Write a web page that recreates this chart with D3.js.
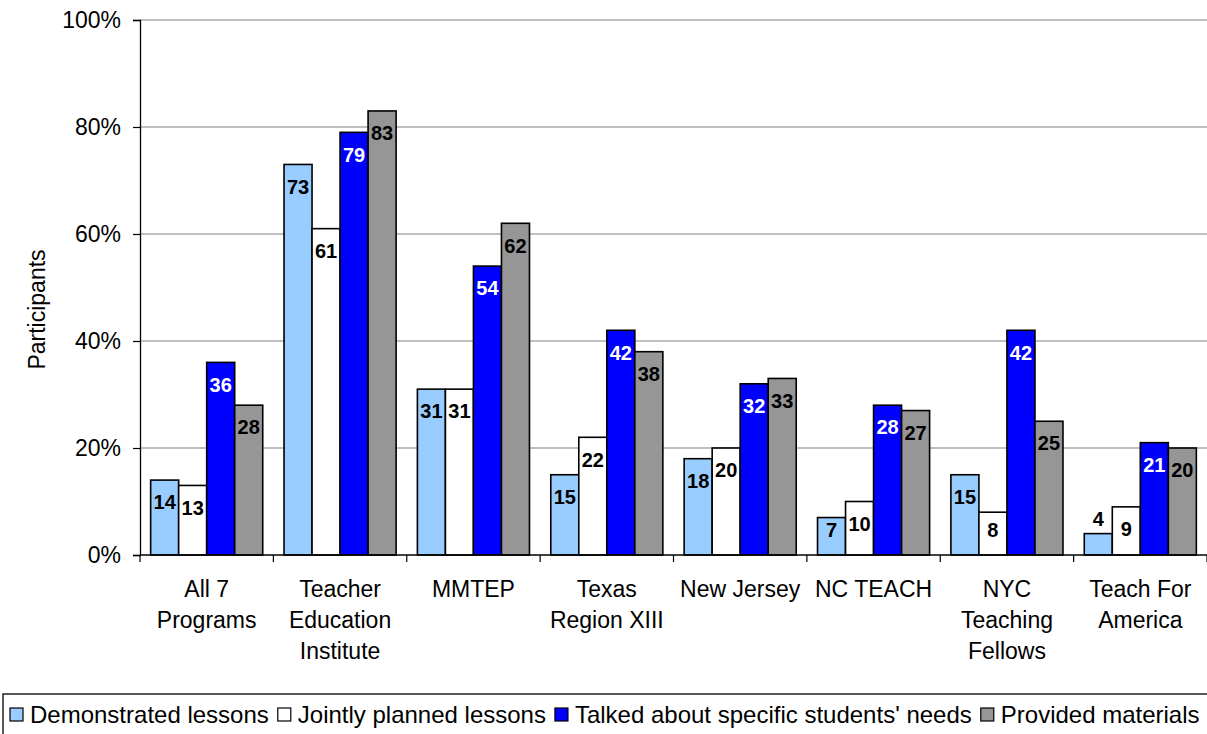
<!DOCTYPE html>
<html>
<head>
<meta charset="utf-8">
<script src="https://cdn.jsdelivr.net/npm/d3@7"></script>
<style>
  body { margin: 0; background: #fff; }
  svg { display: block; font-family: Arial, 'Liberation Sans', sans-serif; }
</style>
</head>
<body>
<svg id="chart" width="1207" height="734"></svg>
<script>
// chart values
var categories = [
    ['All 7', 'Programs'],
    ['Teacher', 'Education', 'Institute'],
    ['MMTEP'],
    ['Texas', 'Region XIII'],
    ['New Jersey'],
    ['NC TEACH'],
    ['NYC', 'Teaching', 'Fellows'],
    ['Teach For', 'America']
];
var seriesNames = ['Demonstrated lessons', 'Jointly planned lessons',
    "Talked about specific students' needs", 'Provided materials'];
var demonstrated = [14, 73, 31, 15, 18, 7, 15, 4];
var jointlyPlanned = [13, 61, 31, 22, 20, 10, 8, 9];
var talkedNeeds = [36, 79, 54, 42, 32, 28, 42, 21];
var providedMaterials = [28, 83, 62, 38, 33, 27, 25, 20];
var yTicks = [0, 20, 40, 60, 80, 100];
var seriesColors = ['#99ccff', '#ffffff', '#0000ff', '#969696'];
var labelColors = ['#000', '#000', '#fff', '#000'];

var allSeries = [demonstrated, jointlyPlanned, talkedNeeds, providedMaterials];

var svg = d3.select('#chart');
var plot = {left: 140, right: 1207, top: 20, bottom: 555};

var catIdx = d3.range(categories.length);
var x0 = d3.scaleBand()
    .domain(catIdx)
    .range([plot.left, plot.right]);
var x1 = d3.scaleBand()
    .domain(d3.range(seriesNames.length))
    .range([0, x0.bandwidth()])
    .paddingOuter(0.38);
var y = d3.scaleLinear()
    .domain([0, 100])
    .range([plot.bottom, plot.top]);

// gridlines
svg.append('g')
    .selectAll('line')
    .data(yTicks.filter(function(d) { return d > 0; }))
    .enter().append('line')
    .attr('x1', plot.left).attr('x2', plot.right)
    .attr('y1', function(d) { return y(d); })
    .attr('y2', function(d) { return y(d); })
    .attr('stroke', '#808080')
    .attr('stroke-width', 1.2);

// y axis
var yAxis = d3.axisLeft(y)
    .tickValues(yTicks)
    .tickSize(7)
    .tickPadding(12)
    .tickFormat(function(d) { return d + '%'; });
var gy = svg.append('g')
    .attr('transform', 'translate(' + plot.left + ',0)')
    .call(yAxis);
gy.select('.domain').attr('stroke', '#000').attr('stroke-width', 1.3);
gy.selectAll('.tick line').attr('stroke', '#000').attr('stroke-width', 1.2);
gy.selectAll('.tick text')
    .attr('font-size', 23)
    .attr('fill', '#000')
    .style('font-family', 'Arial, Liberation Sans, sans-serif');

svg.append('text')
    .attr('transform', 'translate(45,' + ((plot.top + plot.bottom) / 2 + 22) + ') rotate(-90)')
    .attr('text-anchor', 'middle')
    .attr('font-size', 23)
    .text('Participants');

// bars
var bars = [];
catIdx.forEach(function(c) {
    allSeries.forEach(function(s, k) {
        bars.push({cat: c, series: k, value: s[c]});
    });
});

svg.append('g')
    .selectAll('rect')
    .data(bars)
    .enter().append('rect')
    .attr('x', function(d) { return x0(d.cat) + x1(d.series); })
    .attr('y', function(d) { return y(d.value); })
    .attr('width', x1.bandwidth())
    .attr('height', function(d) { return y(0) - y(d.value); })
    .attr('fill', function(d) { return seriesColors[d.series]; })
    .attr('stroke', '#000')
    .attr('stroke-width', 1.6);

// data labels, inside the top of the bar, above it when too short
svg.append('g')
    .selectAll('text')
    .data(bars)
    .enter().append('text')
    .attr('x', function(d) { return x0(d.cat) + x1(d.series) + x1.bandwidth() / 2; })
    .attr('y', function(d) {
        var top = y(d.value), h = y(0) - top;
        if (h < 30) return top - 15;
        return Math.min(top + 22, plot.bottom - 25);
    })
    .attr('dy', '0.36em')
    .attr('text-anchor', 'middle')
    .attr('font-size', 20)
    .attr('font-weight', 'bold')
    .attr('fill', function(d) {
        return (y(0) - y(d.value) < 30) ? '#000' : labelColors[d.series];
    })
    .text(function(d) { return d.value; });

// x axis
svg.append('line')
    .attr('x1', plot.left).attr('x2', plot.right)
    .attr('y1', plot.bottom).attr('y2', plot.bottom)
    .attr('stroke', '#000').attr('stroke-width', 1.3);
svg.append('g')
    .selectAll('line')
    .data(d3.range(categories.length + 1))
    .enter().append('line')
    .attr('x1', function(i) { return plot.left + i * x0.step(); })
    .attr('x2', function(i) { return plot.left + i * x0.step(); })
    .attr('y1', plot.bottom).attr('y2', plot.bottom + 7)
    .attr('stroke', '#000').attr('stroke-width', 1.2);

var catLabel = svg.append('g')
    .selectAll('text')
    .data(catIdx)
    .enter().append('text')
    .attr('x', function(c) { return x0(c) + x0.bandwidth() / 2; })
    .attr('y', 597)
    .attr('text-anchor', 'middle')
    .attr('font-size', 23);
catLabel.selectAll('tspan')
    .data(function(c) { return categories[c]; })
    .enter().append('tspan')
    .attr('x', function() { return d3.select(this.parentNode).attr('x'); })
    .attr('dy', function(d, i) { return i === 0 ? 0 : 31; })
    .text(function(d) { return d; });

// legend
svg.append('rect')
    .attr('x', 3).attr('y', 694)
    .attr('width', 1220).attr('height', 60)
    .attr('fill', 'none')
    .attr('stroke', '#000')
    .attr('stroke-width', 1.3);

var lx = 10;
seriesNames.forEach(function(name, k) {
    svg.append('rect')
        .attr('x', lx).attr('y', 708)
        .attr('width', 13).attr('height', 13)
        .attr('fill', seriesColors[k])
        .attr('stroke', '#000')
        .attr('stroke-width', 1.2);
    var t = svg.append('text')
        .attr('x', lx + 20).attr('y', 723)
        .attr('font-size', 24)
        .text(name);
    lx += 20 + t.node().getComputedTextLength() + 9;
});
</script>
</body>
</html>
